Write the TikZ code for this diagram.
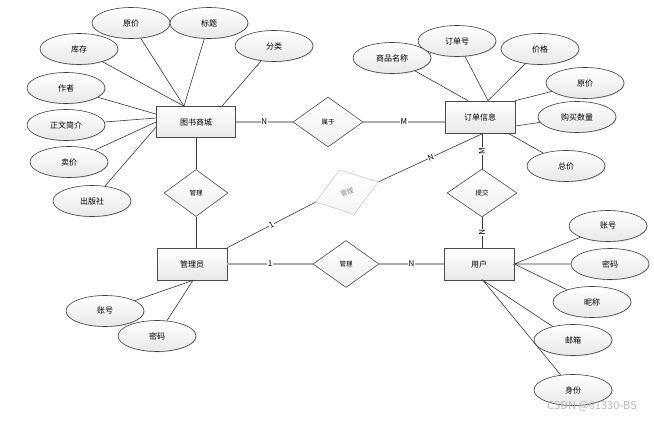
\documentclass[tikz,border=0pt]{standalone}
\usepackage{fontspec}
\setmainfont{Noto Sans CJK SC}
\usetikzlibrary{shapes.geometric, shadows}

\tikzset{
  ent/.style={rectangle, draw=gray!60!black, line width=0.7pt, top color=white, bottom color=gray!18,
    minimum width=70pt, minimum height=32pt, inner sep=0pt, font=\fontsize{8}{9}\selectfont,
    drop shadow={shadow xshift=0.8pt, shadow yshift=-0.8pt, opacity=0.35}},
  attr/.style={ellipse, draw=gray!50!black, line width=0.6pt, top color=white, bottom color=gray!18,
    minimum width=78pt, minimum height=31pt, inner sep=0pt, font=\fontsize{8}{9}\selectfont,
    drop shadow={shadow xshift=0.8pt, shadow yshift=-0.8pt, opacity=0.3}},
  rel/.style={diamond, draw=gray!60!black, line width=0.6pt, top color=white, bottom color=gray!12,
    minimum width=68pt, minimum height=48pt, inner sep=0pt, font=\fontsize{6.5}{7}\selectfont},
  ln/.style={draw=gray!45!black, line width=0.6pt},
  rl/.style={draw=gray!65, line width=1.3pt},
  card/.style={fill=white, inner sep=0.5pt, font=\fontsize{8}{9}\selectfont}
}

\begin{document}
\begin{tikzpicture}[x=1pt, y=-1pt]
  \useasboundingbox (0,0) rectangle (654,422);

  % entities
  \node[ent, minimum width=79pt, minimum height=31pt] (bk) at (196,122) {图书商城};
  \node[ent] (dd) at (480,117) {订单信息};
  \node[ent] (gly) at (192,264) {管理员};
  \node[ent] (yh) at (479,264) {用户};

  % relationships
  \node[rel, minimum width=70pt, minimum height=50pt] (sy) at (328,122) {属于};
  \node[rel, minimum width=64pt, minimum height=47pt] (gl1) at (196,193) {管理};
  \node[rel, minimum width=70pt] (tj) at (482,193) {提交};
  \node[rel, minimum width=66pt, minimum height=47pt] (gl2) at (346,264) {管理};
  \node[rel, draw=gray!40, bottom color=gray!8, text=gray, minimum width=66pt, minimum height=47pt,
    rotate=18] (gl3) at (347,192) {管理};

  % attributes of bk
  \node[attr] (b1) at (131,23) {原价};
  \node[attr] (b2) at (209,23) {标题};
  \node[attr] (b3) at (79,49) {库存};
  \node[attr] (b4) at (274,46) {分类};
  \node[attr] (b5) at (66,88) {作者};
  \node[attr] (b6) at (66,125) {正文简介};
  \node[attr] (b7) at (69,162) {卖价};
  \node[attr] (b8) at (92,201) {出版社};

  % attributes of dd
  \node[attr] (d1) at (392,58) {商品名称};
  \node[attr] (d2) at (457,41) {订单号};
  \node[attr] (d3) at (540,49) {价格};
  \node[attr] (d4) at (585,83) {原价};
  \node[attr] (d5) at (577,117) {购买数量};
  \node[attr] (d6) at (566,166) {总价};

  % attributes of gly
  \node[attr] (g1) at (105,311) {账号};
  \node[attr] (g2) at (157,336) {密码};

  % attributes of yh
  \node[attr] (u1) at (608,226) {账号};
  \node[attr] (u2) at (610,264) {密码};
  \node[attr] (u3) at (592,302) {昵称};
  \node[attr] (u4) at (573,340) {邮箱};
  \node[attr] (u5) at (573,390) {身份};

  % attribute lines
  \draw[ln] (b1) -- ([xshift=-12pt]bk.north) -- (b2);
  \draw[ln] (b3) -- ([xshift=-12pt]bk.north);
  \draw[ln] (b4) -- ([xshift=26pt]bk.north);
  \draw[ln] (b5) -- ([yshift=-8pt]bk.north west);
  \draw[ln] (b6) -- ([yshift=4pt]bk.west);
  \draw[ln] (b7) -- (bk.west);
  \draw[ln] (b8) -- ([yshift=-5pt]bk.west);
  \draw[ln] (d1) -- ([xshift=-12pt]dd.north);
  \draw[ln] (d2) -- ([xshift=8pt]dd.north) -- (d3);
  \draw[ln] (d4) -- (dd.north east);
  \draw[ln] (d5) -- ([yshift=-9pt]dd.east);
  \draw[ln] (d6) -- ([xshift=-7pt]dd.south east);
  \draw[ln] (g1) -- ([xshift=1pt]gly.south) -- (g2);
  \draw[ln] (u1) -- (yh.east) -- (u2);
  \draw[ln] (u3) -- (yh.east);
  \draw[ln] (u4) -- ([xshift=4pt]yh.south) -- (u5);

  % relationship lines
  \draw[rl] (bk) -- node[card] {N} (sy);
  \draw[rl] (sy) -- node[card] {M} (sy -| dd.west);
  \draw[ln] (gl1) -- (bk.south -| gl1);
  \draw[ln] (gl1) -- (gly.north -| gl1);
  \draw[rl] (gly) -- node[card] {1} (gl2);
  \draw[rl] (gl2) -- node[card] {N} (yh);
  \draw[ln] (gly.north east) -- node[card, sloped] {1} (gl3.west);
  \draw[ln] (gl3.east) -- node[card, sloped] {N} ([xshift=3pt]dd.south);
  \draw[ln] (tj) -- node[card, sloped] {M} (tj |- dd.south);
  \draw[ln] (tj) -- node[card, sloped] {N} (tj |- yh.north);

  \node[text=gray!55, font=\fontsize{11}{12}\selectfont] (wm) at (592,406) {CSDN @61330-BS};
\end{tikzpicture}
\end{document}
